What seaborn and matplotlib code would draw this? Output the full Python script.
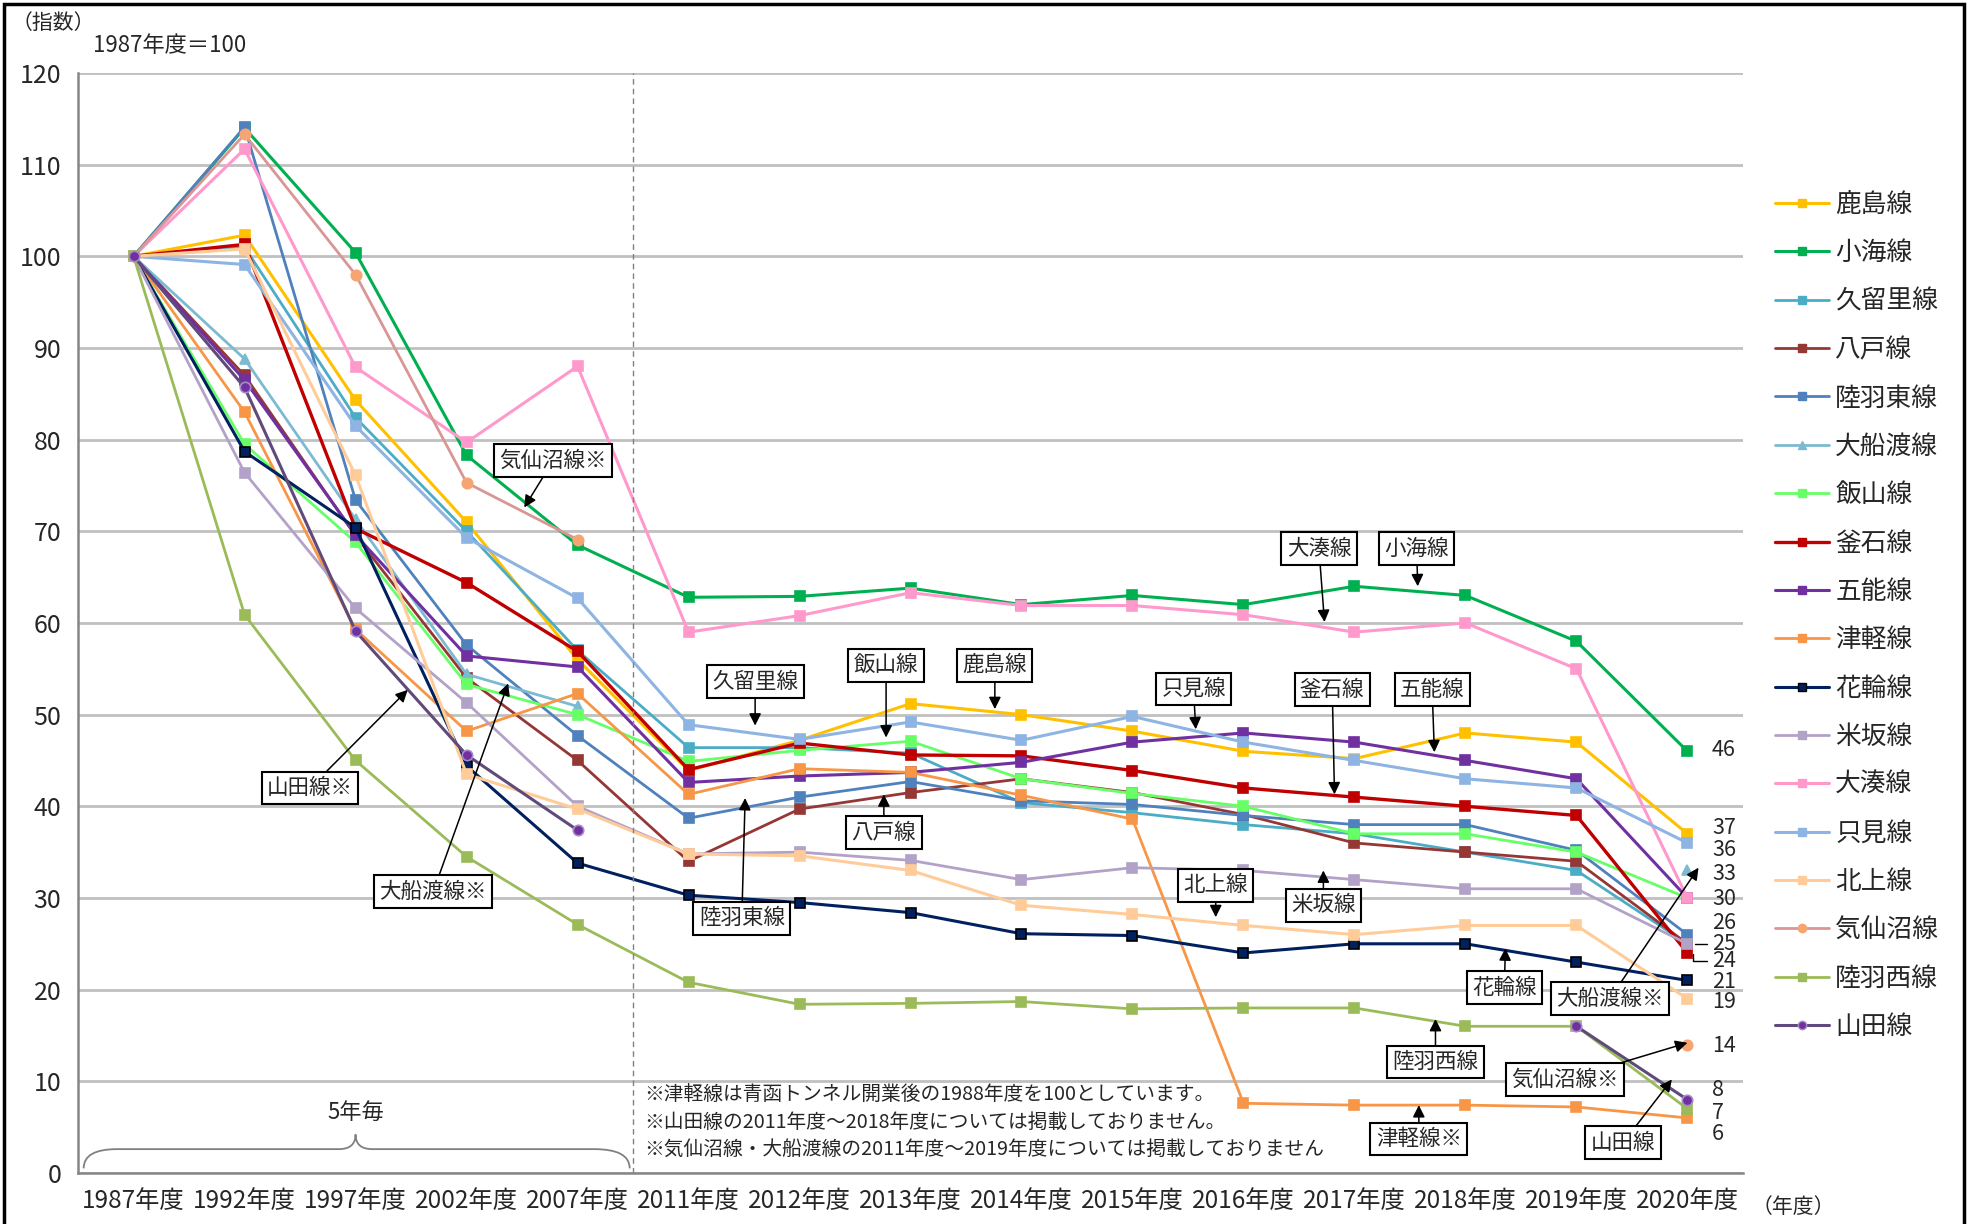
import numpy as np
import pandas as pd
import seaborn as sns
import matplotlib.pyplot as plt
from matplotlib.lines import Line2D
from matplotlib.path import Path
from matplotlib.patches import PathPatch, Rectangle

nan = np.nan

# fiscal years on the x axis
years = ['1987年度', '1992年度', '1997年度', '2002年度', '2007年度', '2011年度', '2012年度',
         '2013年度', '2014年度', '2015年度', '2016年度', '2017年度', '2018年度', '2019年度', '2020年度']

# index values per line (1987 = 100)
kashima   = [100, 102.3, 84.3, 71.0, 56.0, 43.9, 47.2, 51.2, 50.0, 48.2, 46.0, 45.2, 48.0, 47.0, 37]
koumi     = [100, 114.0, 100.4, 78.3, 68.5, 62.8, 62.9, 63.8, 62.0, 63.0, 62.0, 64.0, 63.0, 58.0, 46]
kururi    = [100, 101.0, 82.4, 70.0, 57.0, 46.4, 46.4, 45.8, 40.4, 39.3, 38.0, 37.0, 35.0, 33.0, 25]
hachinohe = [100, 87.0, 69.5, 54.0, 45.0, 34.0, 39.7, 41.5, 43.0, 41.5, 39.1, 36.0, 35.0, 34.0, 25]
rikuutou  = [100, 114.1, 73.4, 57.6, 47.7, 38.7, 41.0, 42.7, 40.6, 40.2, 39.0, 38.0, 38.0, 35.2, 26]
oofunato  = [100, 88.8, 71.3, 54.4, 50.9, nan, nan, nan, nan, nan, nan, nan, nan, nan, 33]
iiyama    = [100, 79.5, 68.8, 53.3, 50.0, 44.9, 46.1, 47.1, 43.0, 41.4, 40.0, 37.0, 37.0, 35.0, 30]
kamaishi  = [100, 101.3, 70.3, 64.4, 56.9, 44.0, 46.9, 45.6, 45.5, 43.9, 42.0, 41.0, 40.0, 39.0, 24]
gonou     = [100, 86.5, 69.6, 56.4, 55.2, 42.6, 43.3, 43.7, 44.8, 47.0, 48.0, 47.0, 45.0, 43.0, 30]
tsugaru   = [100, 83.0, 59.3, 48.2, 52.3, 41.3, 44.1, 43.7, 41.2, 38.6, 7.6, 7.4, 7.4, 7.2, 6]
hanawa    = [100, 78.7, 70.4, 44.4, 33.8, 30.3, 29.5, 28.4, 26.1, 25.9, 24.0, 25.0, 25.0, 23.0, 21]
yonesaka  = [100, 76.4, 61.6, 51.3, 40.0, 34.8, 35.0, 34.1, 32.0, 33.3, 33.0, 32.0, 31.0, 31.0, 25]
ominato   = [100, 111.7, 87.9, 79.7, 88.0, 59.0, 60.8, 63.3, 61.9, 61.9, 60.9, 59.0, 60.0, 55.0, 30]
tadami    = [100, 99.1, 81.5, 69.3, 62.7, 48.9, 47.3, 49.2, 47.2, 49.8, 47.0, 45.0, 43.0, 42.0, 36]
kitakami  = [100, 100.8, 76.1, 43.5, 39.7, 34.8, 34.6, 33.0, 29.2, 28.2, 27.0, 26.0, 27.0, 27.0, 19]
kesennuma = [100, 113.3, 98.0, 75.3, 69.1, nan, nan, nan, nan, nan, nan, nan, nan, nan, 14]
rikuusai  = [100, 60.9, 45.0, 34.5, 27.1, 20.8, 18.4, 18.5, 18.7, 17.9, 18.0, 18.0, 16.0, 16.0, 7]
yamada    = [100, 85.7, 59.1, 45.6, 37.4, nan, nan, nan, nan, nan, nan, nan, nan, 16.0, 8]

lines = {
    '鹿島線': kashima, '小海線': koumi, '久留里線': kururi, '八戸線': hachinohe,
    '陸羽東線': rikuutou, '大船渡線': oofunato, '飯山線': iiyama, '釜石線': kamaishi,
    '五能線': gonou, '津軽線': tsugaru, '花輪線': hanawa, '米坂線': yonesaka,
    '大湊線': ominato, '只見線': tadami, '北上線': kitakami, '気仙沼線': kesennuma,
    '陸羽西線': rikuusai, '山田線': yamada,
}

# (line colour, marker, marker face, marker edge, line width)
styles = {
    '鹿島線': ('#FFC000', 's', '#FFC000', '#FFC000', 2.2),
    '小海線': ('#00B050', 's', '#00B050', '#00B050', 2.2),
    '久留里線': ('#4BACC6', 's', '#4BACC6', '#4BACC6', 2.0),
    '八戸線': ('#953735', 's', '#953735', '#953735', 2.0),
    '陸羽東線': ('#4F81BD', 's', '#4F81BD', '#4F81BD', 2.0),
    '大船渡線': ('#7CBAD2', '^', '#7CBAD2', '#7CBAD2', 2.0),
    '飯山線': ('#66FF66', 's', '#66FF66', '#66FF66', 2.0),
    '釜石線': ('#C00000', 's', '#C00000', '#C00000', 2.4),
    '五能線': ('#7030A0', 's', '#7030A0', '#7030A0', 2.2),
    '津軽線': ('#F79646', 's', '#F79646', '#F79646', 2.0),
    '花輪線': ('#002060', 's', '#002060', '#000000', 2.2),
    '米坂線': ('#B3A2C7', 's', '#B3A2C7', '#B3A2C7', 2.0),
    '大湊線': ('#FF99CC', 's', '#FF99CC', '#FF99CC', 2.2),
    '只見線': ('#8DB4E2', 's', '#8DB4E2', '#8DB4E2', 2.2),
    '北上線': ('#FFCC99', 's', '#FFCC99', '#FFCC99', 2.2),
    '気仙沼線': ('#D99694', 'o', '#F5A572', '#F5A572', 2.0),
    '陸羽西線': ('#9BBB59', 's', '#9BBB59', '#9BBB59', 2.0),
    '山田線': ('#604A7B', 'o', '#7030A0', '#A68BC9', 2.2),
}

# end-of-series value labels (line, vertical nudge)
end_labels = [('小海線', 0.1), ('鹿島線', 0.6), ('只見線', -0.8), ('大船渡線', -0.4),
              ('大湊線', -0.1), ('陸羽東線', 1.3), ('米坂線', 0.0), ('釜石線', -0.9),
              ('花輪線', -0.2), ('北上線', -0.3), ('気仙沼線', -0.1), ('山田線', 1.0),
              ('陸羽西線', -0.5), ('津軽線', -1.8)]

# callout boxes: text, box centre, arrow tip (x in year index)
callouts = [
    ('気仙沼線※', (3.78, 77.7), (3.52, 72.6)),
    ('山田線※', (1.59, 42.0), (2.47, 52.7)),
    ('大船渡線※', (2.70, 30.7), (3.375, 53.4)),
    ('久留里線', (5.6, 53.6), (5.6, 48.8)),
    ('飯山線', (6.78, 55.4), (6.78, 47.5)),
    ('鹿島線', (7.76, 55.4), (7.76, 50.6)),
    ('八戸線', (6.76, 37.1), (6.76, 41.3)),
    ('陸羽東線', (5.48, 27.8), (5.51, 40.9)),
    ('只見線', (9.55, 52.8), (9.57, 48.4)),
    ('釜石線', (10.8, 52.7), (10.82, 41.3)),
    ('五能線', (11.7, 52.7), (11.72, 45.9)),
    ('大湊線', (10.68, 68.1), (10.73, 60.1)),
    ('小海線', (11.56, 68.1), (11.57, 64.0)),
    ('北上線', (9.75, 31.4), (9.75, 27.9)),
    ('米坂線', (10.72, 29.2), (10.72, 33.0)),
    ('花輪線', (12.35, 20.2), (12.36, 24.5)),
    ('大船渡線※', (13.3, 19.0), (14.1, 33.3)),
    ('陸羽西線', (11.73, 12.1), (11.73, 16.8)),
    ('気仙沼線※', (12.9, 10.2), (14.0, 14.2)),
    ('津軽線※', (11.58, 3.7), (11.58, 7.4)),
    ('山田線', (13.42, 3.3), (13.86, 10.2)),
]

notes = ['※津軽線は青函トンネル開業後の1988年度を100としています。',
         '※山田線の2011年度～2018年度については掲載しておりません。',
         '※気仙沼線・大船渡線の2011年度～2019年度については掲載しておりません']

sns.set_style('white')
plt.rcParams['font.family'] = ['Noto Sans CJK JP', 'DejaVu Sans']

df = pd.DataFrame(lines)
df['x'] = np.arange(len(years))

fig = plt.figure(figsize=(19.77, 12.24), dpi=100)
ax = fig.add_axes([0.0395, 0.0417, 0.8421, 0.8987])

handles = []
for name in lines:
    color, mk, mfc, mec, lw = styles[name]
    s = df[['x', name]].copy()
    # split into contiguous runs so gaps are not bridged
    seg = s[name].isna().cumsum()
    s = s[s[name].notna()]
    for _, part in s.groupby(seg[s.index]):
        sns.lineplot(x=part['x'].values, y=part[name].values, ax=ax, color=color,
                     marker=mk, markersize=7.5 if mk != 's' else 6.5, markerfacecolor=mfc,
                     markeredgecolor=mec, markeredgewidth=1.2, linewidth=lw,
                     estimator=None, sort=False, legend=False)
    handles.append(Line2D([0], [0], color=color, lw=lw, marker=mk, markersize=6,
                          markerfacecolor=mfc, markeredgecolor=mec))

ax.set_xlim(-0.5, len(years) - 0.5)
ax.set_ylim(0, 120)
ax.set_yticks(np.arange(0, 121, 10))
ax.set_xticks(np.arange(len(years)))
ax.set_xticklabels(years)
ax.set_xticks(np.arange(-0.5, len(years), 1), minor=True)
ax.tick_params(axis='x', which='major', length=0, labelsize=17.5, pad=11)
ax.tick_params(axis='x', which='minor', length=9, width=1.5, color='#868686', direction='out')
ax.tick_params(axis='y', length=7, width=1.5, color='#868686', labelsize=18, pad=5)
ax.yaxis.grid(True, color='#C0C0C0', lw=2)
ax.set_axisbelow(True)
for sp in ['top', 'right']:
    ax.spines[sp].set_visible(False)
for sp in ['left', 'bottom']:
    ax.spines[sp].set_color('#868686')
    ax.spines[sp].set_linewidth(1.8)
ax.set_xlabel('')
ax.set_ylabel('')

# break between 5-yearly and yearly data
ax.axvline(4.5, color='#808080', ls=(0, (4, 3)), lw=1)

# brace over the 5-yearly part
verts = [(-0.45, 0.5), (-0.45, 2.6), (-0.15, 2.6), (1.85, 2.6), (2.0, 2.6), (2.0, 4.2),
         (2.0, 2.6), (2.15, 2.6), (4.15, 2.6), (4.47, 2.6), (4.47, 0.5)]
codes = [Path.MOVETO, Path.CURVE3, Path.CURVE3, Path.LINETO, Path.CURVE3, Path.CURVE3,
         Path.CURVE3, Path.CURVE3, Path.LINETO, Path.CURVE3, Path.CURVE3]
ax.add_patch(PathPatch(Path(verts, codes), fc='none', ec='#808080', lw=1.3))
ax.text(2.0, 6.6, '5年毎', ha='center', va='center', fontsize=16)

for i, t in enumerate(notes):
    ax.text(4.6, 8.5 - i * 2.95, t, ha='left', va='center', fontsize=14.2)

# end values
last = len(years) - 1
for name, dy in end_labels:
    v = lines[name][last]
    ax.text(14.22, v + dy, f'{v:.0f}', ha='left', va='center', fontsize=15.5)
ax.plot([14.07, 14.18], [25, 25], color='black', lw=1)
ax.plot([14.05, 14.05, 14.18], [23.9, 23.1, 23.1], color='black', lw=1)

for text, box, tip in callouts:
    ax.annotate(text, xy=tip, xytext=box, ha='center', va='center', fontsize=15.5,
                bbox=dict(boxstyle='square,pad=0.25', fc='white', ec='black', lw=1.5),
                arrowprops=dict(arrowstyle='-|>', color='black', lw=1.1,
                                mutation_scale=18, shrinkA=0, shrinkB=0))

fig.legend(handles, list(lines.keys()), loc='upper left', bbox_to_anchor=(0.886, 0.862),
           frameon=False, fontsize=18.5, handlelength=2.1, handletextpad=0.25,
           labelspacing=0.87)

fig.text(0.006, 0.981, '（指数）', fontsize=15, va='center')
fig.text(0.047, 0.963, '1987年度＝100', fontsize=16, va='center')
fig.text(0.886, 0.014, '（年度）', fontsize=15, va='center')
fig.patches.append(Rectangle((0.002, -0.01), 0.9915, 1.007, transform=fig.transFigure,
                             fill=False, ec='black', lw=2.5))

plt.savefig('out.png', dpi=100)
